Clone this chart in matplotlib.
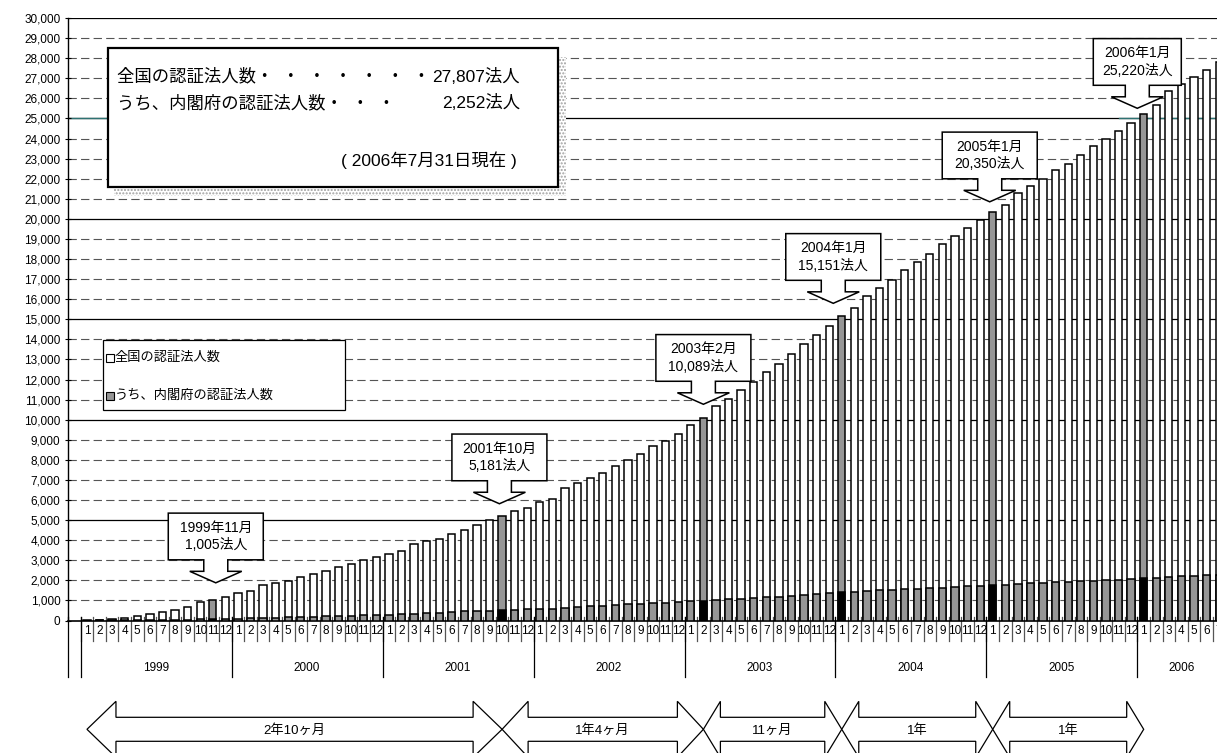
import numpy as np
import matplotlib.pyplot as plt
from matplotlib.patches import Rectangle, Polygon
from matplotlib.transforms import blended_transform_factory

plt.rcParams['font.family'] = ['Liberation Sans', 'Noto Sans CJK JP', 'DejaVu Sans']

# monthly counts, 1999-01 .. 2006-07
years = [1999, 2000, 2001, 2002, 2003, 2004, 2005, 2006]
total = [23, 40, 60, 140, 245, 330, 420, 500, 650, 910, 1005, 1180,
         1370, 1480, 1750, 1880, 1980, 2175, 2300, 2460, 2680, 2825, 3000, 3160,
         3290, 3470, 3800, 3960, 4060, 4330, 4530, 4760, 4980, 5181, 5450, 5620,
         5880, 6050, 6580, 6830, 7100, 7350, 7680, 7970, 8300, 8670, 8950, 9300,
         9720, 10089, 10680, 11050, 11480, 11890, 12360, 12790, 13260, 13790, 14200, 14650,
         15151, 15580, 16150, 16550, 16960, 17430, 17840, 18260, 18760, 19140, 19520, 19950,
         20350, 20700, 21280, 21630, 21980, 22410, 22750, 23180, 23610, 23990, 24360, 24760,
         25220, 25650, 26380, 26700, 27040, 27390, 27807]
cabinet = [0, 3, 5, 10, 15, 20, 25, 30, 40, 50, 60, 70,
           85, 100, 115, 133, 150, 167, 185, 200, 217, 235, 260, 267,
           283, 300, 333, 367, 383, 417, 450, 467, 483, 515, 533, 550,
           583, 590, 633, 667, 700, 733, 767, 800, 817, 867, 883, 900,
           950, 985, 1017, 1050, 1083, 1133, 1167, 1183, 1233, 1270, 1333, 1367,
           1417, 1433, 1467, 1500, 1533, 1567, 1583, 1617, 1633, 1683, 1700, 1733,
           1783, 1790, 1833, 1850, 1883, 1900, 1933, 1967, 1983, 1995, 2033, 2075,
           2110, 2133, 2167, 2217, 2233, 2245, 2252]
highlights = [(1999, 11), (2001, 10), (2003, 2), (2004, 1), (2005, 1), (2006, 1)]
periods = ['2年10ヶ月', '1年4ヶ月', '11ヶ月', '1年', '1年']
legend_labels = ['全国の認証法人数', 'うち、内閣府の認証法人数']
as_of = '2006年7月31日現在'

W, H = 1217, 753
GRAY = '#969696'

def fx(x):
    return x / W

def fy(y):
    return 1 - y / H

# (year, month) for every bar
ym = [(y, m) for y in years for m in range(1, 13)][:len(total)]
pos = np.arange(1, len(total) + 1)
hl = np.array([k in highlights for k in ym])

fig = plt.figure(figsize=(W / 100, H / 100), dpi=100)
slot = 12.58
nslot = len(total) + 1
ax = fig.add_axes([fx(68.1), fy(620.5), nslot * slot / W, 602.5 / H])
ax.set_xlim(-0.5, nslot - 0.5)
ax.set_ylim(0, 30000)

for v in range(1000, 30001, 1000):
    if v % 5000 == 0:
        ax.axhline(v, color='black', lw=0.9, zorder=1)
    else:
        ax.axhline(v, color='#555555', lw=0.8, dashes=(7.5, 3.8), zorder=1)
ax.plot([-0.5, 3.0], [25000, 25000], color='#2e7272', lw=1, zorder=1.1)
ax.plot([83.0, nslot], [25000, 25000], color='#2e7272', lw=1, zorder=1.1)

ax.bar(pos, total, width=0.58, color=np.where(hl, GRAY, 'white'),
       edgecolor='black', linewidth=1.1, zorder=2)
ax.bar(pos, cabinet, width=0.58, color=np.where(hl, 'black', GRAY),
       edgecolor='black', linewidth=1.1, zorder=3)

for s in ['top', 'right']:
    ax.spines[s].set_visible(False)
ax.spines['left'].set_linewidth(1.0)
ax.spines['bottom'].set_linewidth(1.2)
ax.set_yticks(range(0, 30001, 1000))
ax.set_yticklabels([f'{v:,}' for v in range(0, 30001, 1000)])
ax.tick_params(axis='y', direction='inout', length=5, width=0.8, labelsize=8.5, pad=3)
ax.set_xticks([])

# multi-level category axis
bt = blended_transform_factory(ax.transData, fig.transFigure)
for b in np.arange(0.5, nslot, 1):
    ax.plot([b, b], [fy(617), fy(641)], color='#555555', lw=0.9, transform=bt, clip_on=False)
for b in [-0.5] + [0.5 + 12 * k for k in range(len(years))]:
    ax.plot([b, b], [fy(617), fy(677)], color='black', lw=0.9, transform=bt, clip_on=False)
for p, (y, m) in zip(pos, ym):
    ax.text(p, fy(631), str(m), transform=bt, ha='center', va='center', fontsize=8.5)
for y in years:
    ps = [p for p, (yy, _) in zip(pos, ym) if yy == y]
    ax.text((ps[0] + ps[-1]) / 2, fy(668), str(y), transform=bt, ha='center',
            va='center', fontsize=8.5)

def poly(points, **kw):
    fig.add_artist(Polygon([(fx(x), fy(y)) for x, y in points], closed=True,
                           transform=fig.transFigure, **kw))

# callouts over the highlighted months
gaps = [17.5, 12.7, 13.6, 12.9, 10.0, 5.7]
tip_dx = [3, -2.7, 0, -8.5, -3, -6.4]
box_w = [95, 95, 95, 95, 95, 88]
for k, key in enumerate(highlights):
    i = ym.index(key)
    dx, dy = ax.transData.transform((pos[i], total[i]))
    cx, ty = dx + tip_dx[k], H - dy - gaps[k]
    B = ty - 23
    T = B - 46.7
    L, R = cx - box_w[k] / 2, cx + box_w[k] / 2
    pts = [(L, T), (R, T), (R, B), (cx + 12, B), (cx + 12, B + 11.5), (cx + 26, B + 11.5),
           (cx, ty), (cx - 26, B + 11.5), (cx - 12, B + 11.5), (cx - 12, B), (L, B)]
    poly(pts, facecolor='white', edgecolor='black', lw=1.1, zorder=5)
    fig.text(fx(cx), fy((T + B) / 2), f'{key[0]}年{key[1]}月\n{total[i]:,}法人',
             ha='center', va='center', fontsize=10, linespacing=1.35, zorder=6)

# period arrows under the axis: from the first month to each later milestone
tips = [1] + [pos[ym.index(k)] for k in highlights[1:]]
heads = [29, 26, 17, 17, 17]
cy = 729.3
for k, lab in enumerate(periods):
    xa = ax.transData.transform((tips[k], 0))[0]
    xb = ax.transData.transform((tips[k + 1], 0))[0]
    h = heads[k]
    pts = [(xa, cy), (xa + h, cy - 28), (xa + h, cy - 12), (xb - h, cy - 12),
           (xb - h, cy - 28), (xb, cy), (xb - h, cy + 28), (xb - h, cy + 12),
           (xa + h, cy + 12), (xa + h, cy + 28)]
    poly(pts, facecolor='white', edgecolor='black', lw=0.9, zorder=5)
    fig.text(fx((xa + xb) / 2), fy(731), lab, ha='center', va='center',
             fontsize=9.5, zorder=6)

# summary box
fig.add_artist(Rectangle((fx(114), fy(196)), fx(452), 139 / H, transform=fig.transFigure,
                         facecolor='white', edgecolor='#a0a0a0', hatch='.....', lw=0, zorder=4))
fig.add_artist(Rectangle((fx(108), fy(187)), fx(450), 139 / H, transform=fig.transFigure,
                         facecolor='white', edgecolor='black', lw=1.6, zorder=5))
dots7 = '\u2002'.join(['・'] * 7)
dots3 = '\u2002'.join(['・'] * 3)
fig.text(fx(117), fy(76), legend_labels[0] + dots7, ha='left', va='center', fontsize=12.5, zorder=6)
fig.text(fx(520), fy(76), f'{total[-1]:,}法人', ha='right', va='center', fontsize=12.5, zorder=6)
fig.text(fx(117), fy(103), legend_labels[1] + dots3, ha='left', va='center', fontsize=12.5, zorder=6)
fig.text(fx(520), fy(103), f'{cabinet[-1]:,}法人', ha='right', va='center', fontsize=12.5, zorder=6)
fig.text(fx(517), fy(160), f'( {as_of} )', ha='right', va='center', fontsize=12.5, zorder=6)

# legend
fig.add_artist(Rectangle((fx(103), fy(410)), fx(242), 70 / H, transform=fig.transFigure,
                         facecolor='white', edgecolor='black', lw=0.9, zorder=5))
for y, fc, lab in [(358, 'white', legend_labels[0]), (396, GRAY, legend_labels[1])]:
    fig.add_artist(Rectangle((fx(106), fy(y + 4)), fx(8), 8 / H, transform=fig.transFigure,
                             facecolor=fc, edgecolor='black', lw=0.8, zorder=6))
    fig.text(fx(115), fy(y), lab, ha='left', va='center', fontsize=9.5, zorder=6)

fig.savefig('out.png', dpi=100)
